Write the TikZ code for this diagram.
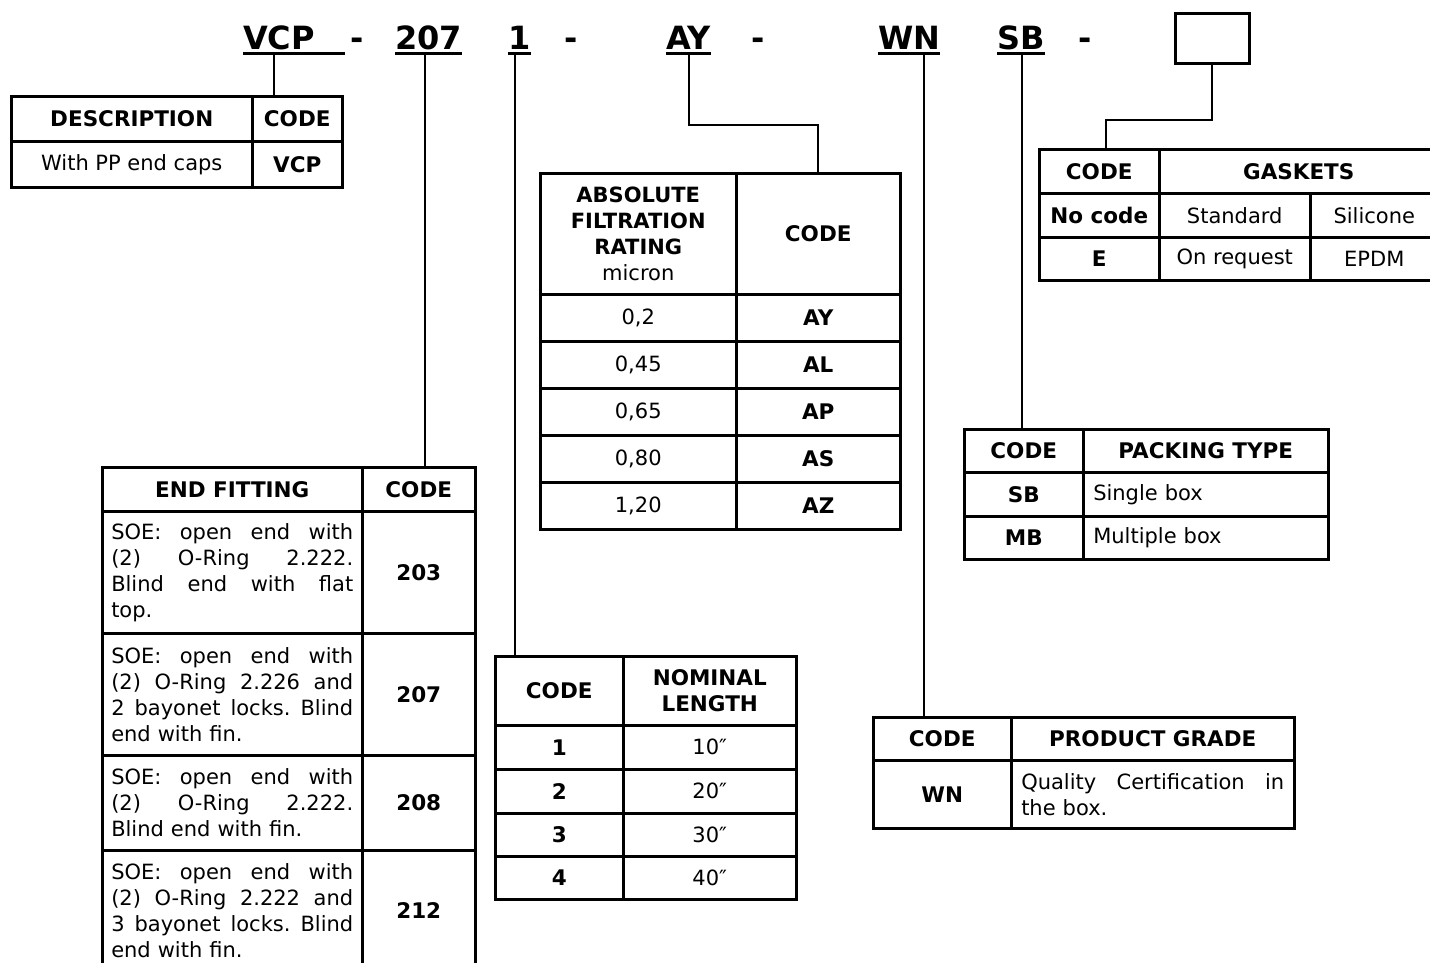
\documentclass[tikz,border=0pt]{standalone}
\usepackage{fontspec}
\setmainfont{DejaVu Sans}
\usetikzlibrary{positioning}

\newcommand{\tabfont}{\fontsize{21}{26}\selectfont}
\newcommand{\tabfontb}{\fontsize{21.5}{26}\selectfont\bfseries}
\newcommand{\codefont}{\fontsize{32}{36}\selectfont\bfseries}
% one justified line of a cell
\newcommand{\jline}[2][242pt]{\makebox[#1][s]{\spaceskip=0.32em plus 1fil\xspaceskip=0.32em plus 1fil #2}}

\tikzset{
  cell/.style={draw, line width=2.5pt, anchor=north west, inner sep=0pt, align=center, font=\tabfont},
  head/.style={cell, font=\tabfontb},
  codepart/.style={anchor=base west, inner sep=0pt, font=\codefont},
  uline/.style={line width=3pt},
  link/.style={line width=2pt}
}

\begin{document}
\begin{tikzpicture}[x=1pt, y=-1pt]
\useasboundingbox (0,0) rectangle (1430,962);

% part number
\node[codepart] (vcp) at (243,49) {VCP};
\node[codepart] (d1) at (350,49) {-};
\node[codepart] (c207) at (395,49) {207};
\node[codepart] (c1) at (508,49) {1};
\node[codepart] (d2) at (564,49) {-};
\node[codepart] (ay) at (666,49) {AY};
\node[codepart] (d3) at (751,49) {-};
\node[codepart] (wn) at (878,49) {WN};
\node[codepart] (sb) at (997,49) {SB};
\node[codepart] (d4) at (1078,49) {-};
\node[draw, line width=2.5pt, minimum width=74, minimum height=50, anchor=north west] (opt) at (1174,12) {};

\draw[uline] ([yshift=-4.5pt]vcp.base west) -- ++(102,0);
\draw[uline] ([yshift=-4.5pt]c207.base west) -- ([yshift=-4.5pt]c207.base east);
\draw[uline] ([yshift=-4.5pt]c1.base west) -- ([yshift=-4.5pt]c1.base east);
\draw[uline] ([yshift=-4.5pt]ay.base west) -- ([yshift=-4.5pt]ay.base east);
\draw[uline] ([yshift=-4.5pt]wn.base west) -- ([yshift=-4.5pt]wn.base east);
\draw[uline] ([yshift=-4.5pt]sb.base west) -- ([yshift=-4.5pt]sb.base east);

% description
\node[head, minimum width=241, minimum height=45] (desc-h) at (10,95) {DESCRIPTION};
\node[head, minimum width=90, minimum height=45] (desc-c) at (251,95) {CODE};
\node[cell, minimum width=241, minimum height=46] (desc-1) at (10,140) {With PP end caps};
\node[head, minimum width=90, minimum height=46] (desc-1c) at (251,140) {VCP};

% filtration rating
\node[cell, minimum width=196, minimum height=121] (filt-h) at (539,172)
  {\textbf{ABSOLUTE}\\\textbf{FILTRATION}\\\textbf{RATING}\\micron};
\node[head, minimum width=164, minimum height=121] (filt-c) at (735,172) {CODE};
\node[cell, minimum width=196, minimum height=47] (filt-1) at (539,293) {0,2};
\node[head, minimum width=164, minimum height=47] (filt-1c) at (735,293) {AY};
\node[cell, minimum width=196, minimum height=47] (filt-2) at (539,340) {0,45};
\node[head, minimum width=164, minimum height=47] (filt-2c) at (735,340) {AL};
\node[cell, minimum width=196, minimum height=47] (filt-3) at (539,387) {0,65};
\node[head, minimum width=164, minimum height=47] (filt-3c) at (735,387) {AP};
\node[cell, minimum width=196, minimum height=47] (filt-4) at (539,434) {0,80};
\node[head, minimum width=164, minimum height=47] (filt-4c) at (735,434) {AS};
\node[cell, minimum width=196, minimum height=47] (filt-5) at (539,481) {1,20};
\node[head, minimum width=164, minimum height=47] (filt-5c) at (735,481) {AZ};

% gaskets
\node[head, minimum width=120, minimum height=44] (gask-c) at (1038,148) {CODE};
\node[head, minimum width=279, minimum height=44] (gask-h) at (1158,148) {GASKETS};
\node[head, minimum width=120, minimum height=44] (gask-1c) at (1038,192) {No code};
\node[cell, minimum width=151, minimum height=44] (gask-1a) at (1158,192) {Standard};
\node[cell, minimum width=128, minimum height=44] (gask-1b) at (1309,192) {Silicone};
\node[head, minimum width=120, minimum height=43] (gask-2c) at (1038,236) {E};
\node[cell, minimum width=151, minimum height=43] (gask-2a) at (1158,236) {On request};
\node[cell, minimum width=128, minimum height=43] (gask-2b) at (1309,236) {EPDM};

% packing type
\node[head, minimum width=119, minimum height=43] (pack-c) at (963,428) {CODE};
\node[head, minimum width=245, minimum height=43] (pack-h) at (1082,428) {PACKING TYPE};
\node[head, minimum width=119, minimum height=44] (pack-1c) at (963,471) {SB};
\node[cell, minimum width=245, minimum height=44, text width=225, align=left] (pack-1) at (1082,471) {Single box};
\node[head, minimum width=119, minimum height=43] (pack-2c) at (963,515) {MB};
\node[cell, minimum width=245, minimum height=43, text width=225, align=left] (pack-2) at (1082,515) {Multiple box};

% end fitting
\node[head, minimum width=260, minimum height=44] (efit-h) at (101,466) {END FITTING};
\node[head, minimum width=113, minimum height=44] (efit-c) at (361,466) {CODE};
\node[cell, minimum width=260, minimum height=122, text width=242, align=left] (efit-1) at (101,510)
  {\jline{SOE: open end with}\\\jline{(2) O-Ring 2.222.}\\\jline{Blind end with flat}\\top.};
\node[head, minimum width=113, minimum height=122] (efit-1c) at (361,510) {203};
\node[cell, minimum width=260, minimum height=122, text width=242, align=left] (efit-2) at (101,632)
  {\jline{SOE: open end with}\\\jline{(2) O-Ring 2.226 and}\\\jline{2 bayonet locks. Blind}\\end with fin.};
\node[head, minimum width=113, minimum height=122] (efit-2c) at (361,632) {207};
\node[cell, minimum width=260, minimum height=95, text width=242, align=left] (efit-3) at (101,754)
  {\jline{SOE: open end with}\\\jline{(2) O-Ring 2.222.}\\Blind end with fin.};
\node[head, minimum width=113, minimum height=95] (efit-3c) at (361,754) {208};
\node[cell, minimum width=260, minimum height=121, text width=242, align=left] (efit-4) at (101,849)
  {\jline{SOE: open end with}\\\jline{(2) O-Ring 2.222 and}\\\jline{3 bayonet locks. Blind}\\end with fin.};
\node[head, minimum width=113, minimum height=121] (efit-4c) at (361,849) {212};

% nominal length
\node[head, minimum width=128, minimum height=69] (nom-c) at (494,655) {CODE};
\node[head, minimum width=173, minimum height=69] (nom-h) at (622,655) {NOMINAL\\LENGTH};
\node[head, minimum width=128, minimum height=44] (nom-1c) at (494,724) {1};
\node[cell, minimum width=173, minimum height=44] (nom-1) at (622,724) {10″};
\node[head, minimum width=128, minimum height=44] (nom-2c) at (494,768) {2};
\node[cell, minimum width=173, minimum height=44] (nom-2) at (622,768) {20″};
\node[head, minimum width=128, minimum height=43] (nom-3c) at (494,812) {3};
\node[cell, minimum width=173, minimum height=43] (nom-3) at (622,812) {30″};
\node[head, minimum width=128, minimum height=43] (nom-4c) at (494,855) {4};
\node[cell, minimum width=173, minimum height=43] (nom-4) at (622,855) {40″};

% product grade
\node[head, minimum width=138, minimum height=43] (prod-c) at (872,716) {CODE};
\node[head, minimum width=283, minimum height=43] (prod-h) at (1010,716) {PRODUCT GRADE};
\node[head, minimum width=138, minimum height=68] (prod-1c) at (872,759) {WN};
\node[cell, minimum width=283, minimum height=68, text width=263, align=left] (prod-1) at (1010,759)
  {\jline[263pt]{Quality Certification in}\\the box.};

% connectors
\coordinate (vcp-f) at ([xshift=31pt,yshift=-5pt]vcp.base west);
\coordinate (c207-f) at ([xshift=30pt,yshift=-5pt]c207.base west);
\coordinate (c1-f) at ([xshift=7pt,yshift=-5pt]c1.base west);
\coordinate (ay-f) at ([xshift=23pt,yshift=-5pt]ay.base west);
\coordinate (wn-f) at ([xshift=46pt,yshift=-5pt]wn.base west);
\coordinate (sb-f) at ([xshift=25pt,yshift=-5pt]sb.base west);
\draw[link] (vcp-f) -- (vcp-f |- desc-c.north);
\draw[link] (c207-f) -- (c207-f |- efit-c.north);
\draw[link] (c1-f) -- (c1-f |- nom-c.north);
\draw[link] (ay-f) -- ++(0,71) -| (filt-c.north);
\draw[link] (wn-f) -- (wn-f |- prod-c.north);
\draw[link] (sb-f) -- (sb-f |- pack-c.north);
\draw[link] (opt.south) -- ++(0,55) -| ([xshift=7pt]gask-c.north);
\end{tikzpicture}
\end{document}
